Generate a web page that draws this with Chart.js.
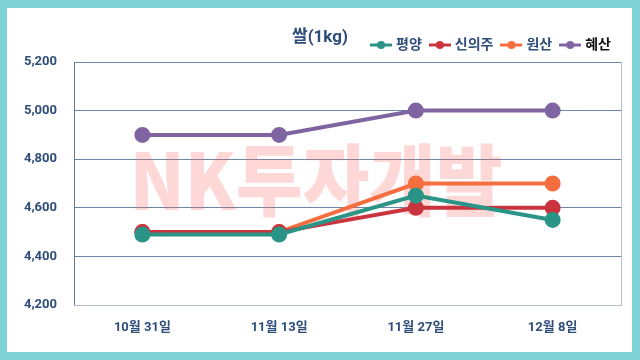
<!DOCTYPE html>
<html>
<head>
<meta charset="utf-8">
<script src="https://cdn.jsdelivr.net/npm/chart.js@4"></script>
<style>
  html, body { margin: 0; padding: 0; }
  body { width: 640px; height: 360px; background: #7fd3d6; position: relative; overflow: hidden; }
  #box { position: absolute; left: 7px; top: 8px; width: 625px; height: 344px; background: #fff; }
</style>
</head>
<body>
<div id="box"><canvas id="myChart" width="625" height="344"></canvas></div>
<script>
// 날짜 / 지역별 쌀 가격 (원/kg)
var dias = ['10월 31일', '11월 13일', '11월 27일', '12월 8일'];
var pyongyang = [4490, 4490, 4650, 4550];
var sinuiju = [4500, 4500, 4600, 4600];
var wonsan = [4500, 4500, 4700, 4700];
var hyesan = [4900, 4900, 5000, 5000];
var regioes = ['평양', '신의주', '원산', '혜산'];
var cores = ['#2a9486', '#c9343f', '#f46e40', '#8064a2'];

var azul = '#2e4d7b';
var fonte = "Roboto, 'Noto Sans CJK KR', sans-serif";

// marcador da legenda: linha com bolinha no meio
function marcador(cor) {
  var c = document.createElement('canvas');
  c.width = 22; c.height = 10;
  var g = c.getContext('2d');
  g.strokeStyle = cor; g.lineWidth = 3;
  g.beginPath(); g.moveTo(0, 5); g.lineTo(22, 5); g.stroke();
  g.fillStyle = cor;
  g.beginPath(); g.arc(11, 5, 4, 0, Math.PI * 2); g.fill();
  return c;
}

var marcaDagua = {
  id: 'marcaDagua',
  beforeDatasetsDraw: function (chart) {
    var ctx = chart.ctx;
    ctx.save();
    ctx.font = "900 78px 'Noto Sans CJK KR', sans-serif";
    ctx.fillStyle = 'rgba(250, 95, 95, 0.25)';
    ctx.textAlign = 'center';
    ctx.textBaseline = 'middle';
    var w = ctx.measureText('NK투자개발').width;
    ctx.translate(309, 172);
    ctx.scale(373 / w, 1);
    ctx.fillText('NK투자개발', 0, 0);
    ctx.restore();
  },
  afterDraw: function (chart) {
    var ctx = chart.ctx;
    var a = chart.chartArea;
    ctx.save();
    // borda direita da area
    ctx.strokeStyle = '#b4bcc8';
    ctx.lineWidth = 1;
    ctx.beginPath();
    ctx.moveTo(Math.round(a.right) + 0.5, a.top);
    ctx.lineTo(Math.round(a.right) + 0.5, a.bottom);
    ctx.stroke();
    // titulo
    ctx.font = "bold 17px " + fonte;
    ctx.fillStyle = azul;
    ctx.textAlign = 'center';
    ctx.textBaseline = 'middle';
    ctx.fillText('쌀(1kg)', 313, 30);
    ctx.restore();
  }
};

var series = [pyongyang, sinuiju, wonsan, hyesan];
var datasets = series.map(function (s, i) {
  return {
    label: regioes[i],
    data: s,
    borderColor: cores[i],
    backgroundColor: cores[i],
    borderWidth: 4,
    pointRadius: 6,
    pointHoverRadius: 6,
    tension: 0
  };
});

const ctx = document.getElementById('myChart');
const grafico = new Chart(ctx, {
  type: 'line',
  data: { labels: dias, datasets: datasets },
  plugins: [marcaDagua],
  options: {
    responsive: false,
    animation: false,
    layout: { padding: { top: 20, right: 11, left: 0, bottom: 0 } },
    scales: {
      y: {
        min: 4200,
        max: 5200,
        ticks: {
          stepSize: 200,
          color: azul,
          font: { family: fonte, size: 13, weight: 'bold' },
          padding: 17,
          callback: function (v) { return v.toLocaleString('en-US'); }
        },
        grid: { color: '#6e86a7', lineWidth: 1, drawTicks: false },
        border: { color: '#5f7899' },
        afterFit: function (s) { s.width = 67; }
      },
      x: {
        offset: true,
        ticks: {
          color: azul,
          font: { family: fonte, size: 13, weight: 'bold' },
          padding: 15
        },
        grid: { display: false, drawTicks: false },
        border: { color: '#b4bcc8' },
        afterFit: function (s) { s.height = 47; }
      }
    },
    plugins: {
      legend: {
        position: 'top',
        align: 'end',
        labels: {
          usePointStyle: true,
          pointStyleWidth: 16,
          boxHeight: 10,
          padding: 10,
          color: azul,
          font: { family: fonte, size: 14, weight: 'bold' },
          generateLabels: function (chart) {
            return chart.data.datasets.map(function (d, i) {
              return {
                text: d.label,
                pointStyle: marcador(cores[i]),
                fillStyle: cores[i],
                strokeStyle: cores[i],
                lineWidth: 0,
                fontColor: i == 3 ? '#111' : azul,
                datasetIndex: i
              };
            });
          }
        }
      },
      tooltip: { enabled: false }
    }
  }
});
</script>
</body>
</html>
